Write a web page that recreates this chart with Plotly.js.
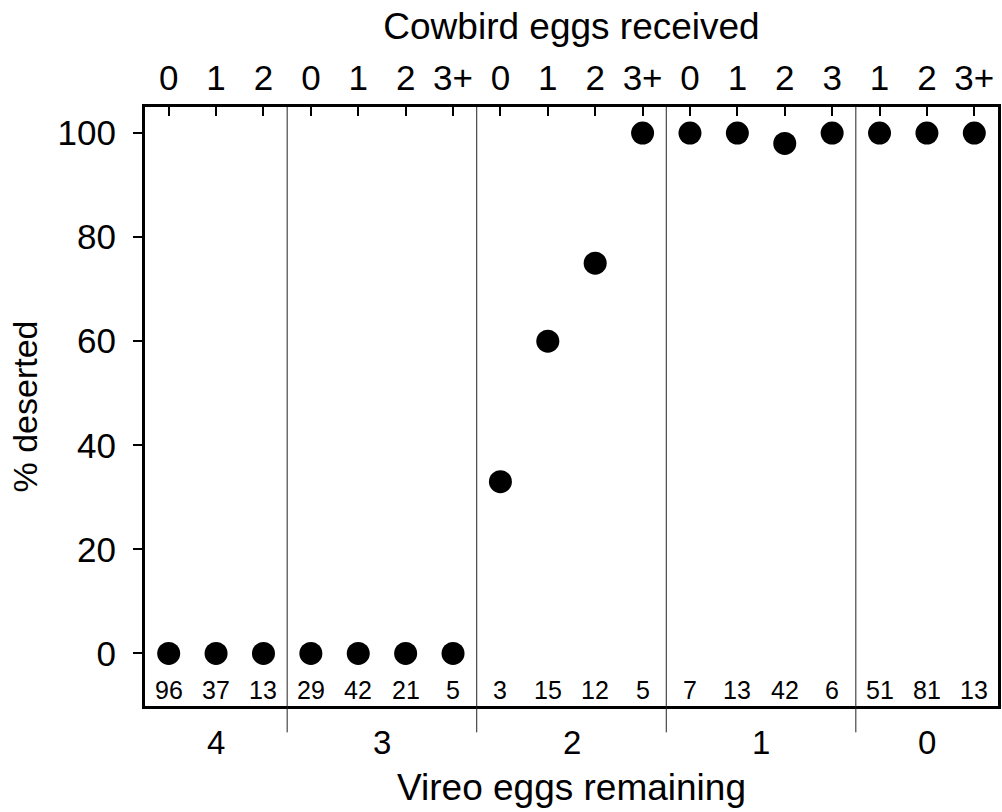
<!DOCTYPE html>
<html>
<head>
<meta charset="utf-8">
<script src="https://cdn.plot.ly/plotly-3.0.1.min.js"></script>
<style>html,body{margin:0;padding:0;background:#fff;}#chart{width:1002px;height:812px;}</style>
</head>
<body>
<div id="chart"></div>
<script>
// Data
var cowbirdLabels = ['0','1','2','0','1','2','3+','0','1','2','3+','0','1','2','3','1','2','3+'];
var pctDeserted = [0,0,0,0,0,0,0,33,60,75,100,100,100,98,100,100,100,100];
var nestCounts = [96,37,13,29,42,21,5,3,15,12,5,7,13,42,6,51,81,13];
var vireoGroups = ['4','3','2','1','0'];
var groupSizes = [3,4,4,4,3];

var FONT = 'Liberation Sans, Arial, Helvetica, sans-serif';
var xIdx = cowbirdLabels.map(function(_, i){ return i; });

var shapes = [];
var annotations = [];
var start = 0;
for (var g = 0; g < vireoGroups.length; g++) {
  var end = start + groupSizes[g] - 1;
  annotations.push({
    x: (start + end) / 2, xref: 'x', y: -0.061, yref: 'paper',
    text: vireoGroups[g], showarrow: false, xanchor: 'center', yanchor: 'middle',
    font: {family: FONT, size: 33, color: '#000'}
  });
  if (g < vireoGroups.length - 1) {
    shapes.push({
      type: 'line', xref: 'x', yref: 'paper', x0: end + 0.5, x1: end + 0.5,
      y0: -0.044, y1: 1, line: {color: '#222', width: 1}
    });
  }
  start = end + 1;
}
nestCounts.forEach(function(n, i){
  annotations.push({
    x: i, xref: 'x', y: -7.1, yref: 'y', text: String(n), showarrow: false,
    xanchor: 'center', yanchor: 'middle',
    font: {family: FONT, size: 25, color: '#000'}
  });
});
annotations.push({
  x: 0.5, xref: 'paper', y: -0.136, yref: 'paper', text: 'Vireo eggs remaining',
  showarrow: false, xanchor: 'center', yanchor: 'middle',
  font: {family: FONT, size: 37, color: '#000'}
});

var trace = {
  x: xIdx, y: pctDeserted, type: 'scatter', mode: 'markers',
  marker: {size: 23, color: '#000', line: {width: 0}},
  cliponaxis: false, hoverinfo: 'skip'
};

var layout = {
  width: 1002, height: 812,
  margin: {l: 145, r: 4, t: 107, b: 106, pad: 0},
  paper_bgcolor: '#fff', plot_bgcolor: '#fff',
  showlegend: false,
  font: {family: FONT, color: '#000'},
  xaxis: {
    range: [-0.5, 17.5], side: 'top',
    tickmode: 'array', tickvals: xIdx, ticktext: cowbirdLabels,
    ticks: 'inside', ticklen: 9, tickwidth: 2, tickcolor: '#000',
    showline: true, linewidth: 3, linecolor: '#000', mirror: true,
    showgrid: false, zeroline: false,
    tickfont: {family: FONT, size: 35, color: '#000'},
    title: {text: 'Cowbird eggs received', font: {family: FONT, size: 37, color: '#000'}, standoff: 8}
  },
  yaxis: {
    range: [-10.1, 105],
    tickmode: 'array', tickvals: [0,20,40,60,80,100],
    ticks: 'outside', ticklen: 9, tickwidth: 2, tickcolor: '#000',
    showline: true, linewidth: 3, linecolor: '#000', mirror: true,
    showgrid: false, zeroline: false,
    tickfont: {family: FONT, size: 35, color: '#000'},
    ticklabelstandoff: 10,
    title: {text: '% deserted', font: {family: FONT, size: 34, color: '#000'}, standoff: 10}
  },
  shapes: shapes,
  annotations: annotations
};

Plotly.newPlot('chart', [trace], layout, {displayModeBar: false, staticPlot: true});
</script>
</body>
</html>
